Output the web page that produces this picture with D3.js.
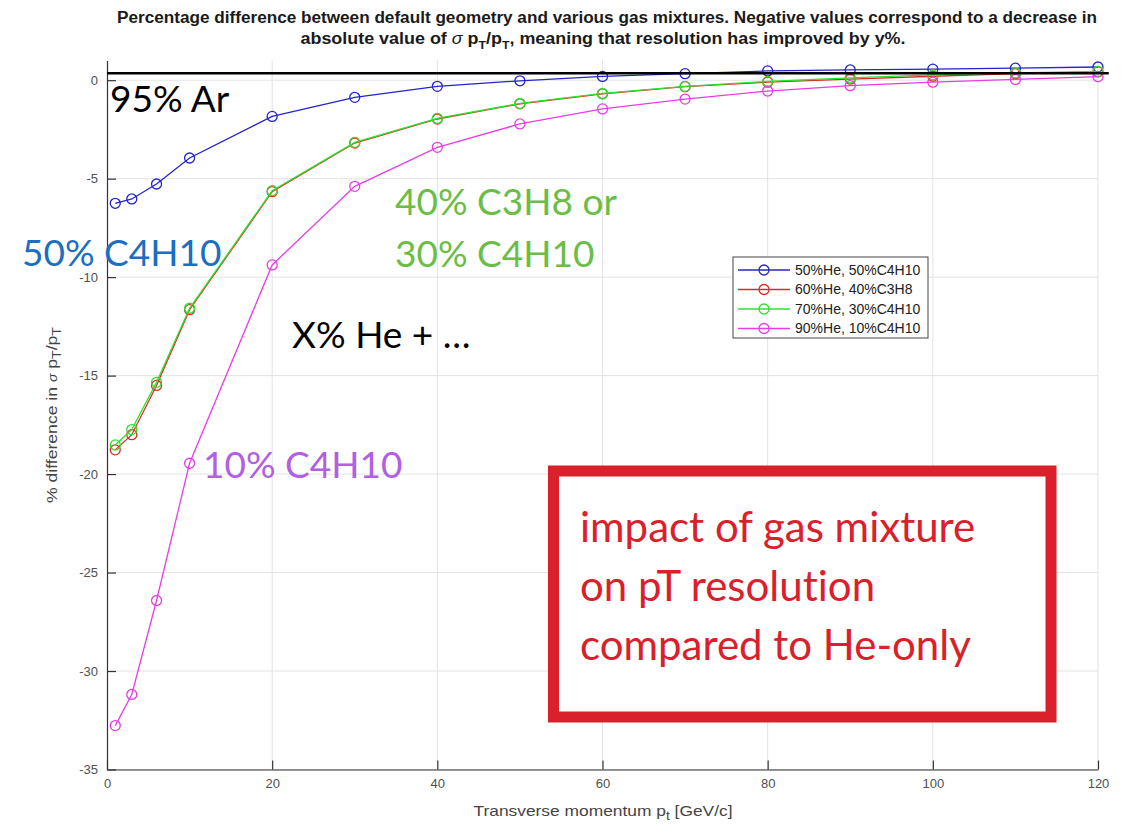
<!DOCTYPE html>
<html>
<head>
<meta charset="utf-8">
<script src="https://cdn.jsdelivr.net/npm/d3@7"></script>
<style>
  body { margin: 0; background: #fff; }
  svg { display: block; }
</style>
</head>
<body>
<script>
// transverse momentum points (GeV/c)
const momentum = [1, 3, 6, 10, 20, 30, 40, 50, 60, 70, 80, 90, 100, 110, 120];
// % difference in sigma pT/pT for each gas mixture
const he50c4h10 = [-6.25, -6.03, -5.27, -3.95, -1.84, -0.87, -0.31, -0.03, 0.19, 0.33, 0.47, 0.52, 0.56, 0.61, 0.67];
const he60c3h8 = [-18.77, -18.0, -15.5, -11.65, -5.66, -3.19, -1.97, -1.2, -0.69, -0.33, -0.1, 0.05, 0.2, 0.33, 0.42];
const he70c4h10 = [-18.52, -17.74, -15.34, -11.58, -5.61, -3.16, -1.94, -1.18, -0.67, -0.31, -0.06, 0.12, 0.27, 0.37, 0.45];
const he90c4h10 = [-32.77, -31.19, -26.42, -19.45, -9.38, -5.39, -3.41, -2.22, -1.46, -0.96, -0.55, -0.28, -0.1, 0.04, 0.18];
const seriesNames = ["50%He, 50%C4H10", "60%He, 40%C3H8", "70%He, 30%C4H10", "90%He, 10%C4H10"];
const seriesColors = ["#2424cc", "#e02a2a", "#2ee02e", "#e63ee6"];
// 95% Ar reference level
const argonLevel = 0.35;
const xTicks = [0, 20, 40, 60, 80, 100, 120];
const yTicks = [0, -5, -10, -15, -20, -25, -30, -35];

window.onload = function() {
  const w = 1121;
  const h = 827;
  const left = 107, right = 1098, top = 60.5, bottom = 769.5;
  const sans = "Liberation Sans, Arial, sans-serif";

  let svg = d3.select("body")
            .append("svg")
            .attr("width", w)
            .attr("height", h);

  let xScale = d3.scaleLinear().domain([0, 120]).range([left, right]);
  let yScale = d3.scaleLinear().domain([-35, 1]).range([bottom, top]);

  // grid
  svg.append("g")
     .selectAll("line")
     .data(xTicks.slice(1))
     .enter()
     .append("line")
     .attr("x1", d => xScale(d)).attr("x2", d => xScale(d))
     .attr("y1", top).attr("y2", bottom)
     .attr("stroke", "#e3e3e3").attr("stroke-width", 1);
  svg.append("g")
     .selectAll("line")
     .data(yTicks)
     .enter()
     .append("line")
     .attr("x1", left).attr("x2", right)
     .attr("y1", d => yScale(d)).attr("y2", d => yScale(d))
     .attr("stroke", "#e3e3e3").attr("stroke-width", 1);

  // axes, ticks pointing inward, plain hyphen for negatives
  let fmt = d => String(d);
  let xAxis = d3.axisBottom(xScale).tickValues(xTicks).tickSizeInner(-9).tickSizeOuter(0).tickPadding(9).tickFormat(fmt);
  let yAxis = d3.axisLeft(yScale).tickValues(yTicks).tickSizeInner(-9).tickSizeOuter(0).tickPadding(9).tickFormat(fmt);
  let gx = svg.append("g")
     .attr("transform", "translate(0," + bottom + ")")
     .call(xAxis);
  let gy = svg.append("g")
     .attr("transform", "translate(" + left + ",0)")
     .call(yAxis);
  [gx, gy].forEach(function(g) {
    g.select(".domain").attr("stroke", "#333").attr("stroke-width", 1.2);
    g.selectAll(".tick line").attr("stroke", "#333").attr("stroke-width", 1.2);
    g.selectAll(".tick text")
     .attr("fill", "#505050")
     .style("font-family", sans)
     .style("font-size", "13px");
  });

  // series
  const allSeries = [he50c4h10, he60c3h8, he70c4h10, he90c4h10];
  let line = d3.line()
               .x((d, i) => xScale(momentum[i]))
               .y(d => yScale(d));
  allSeries.forEach(function(values, k) {
    let g = svg.append("g");
    g.append("path")
     .attr("d", line(values))
     .attr("fill", "none")
     .attr("stroke", seriesColors[k])
     .attr("stroke-width", 1.3);
    g.selectAll("circle")
     .data(values)
     .enter()
     .append("circle")
     .attr("cx", (d, i) => xScale(momentum[i]))
     .attr("cy", d => yScale(d))
     .attr("r", 5)
     .attr("fill", "none")
     .attr("stroke", seriesColors[k])
     .attr("stroke-width", 1.3);
  });

  // 95% Ar reference line
  svg.append("line")
     .attr("x1", xScale(0)).attr("x2", xScale(121.3))
     .attr("y1", yScale(argonLevel)).attr("y2", yScale(argonLevel))
     .attr("stroke", "#000").attr("stroke-width", 2.6);

  // legend
  let legend = svg.append("g").attr("transform", "translate(733,257)");
  legend.append("rect")
        .attr("width", 195).attr("height", 81)
        .attr("fill", "#fff").attr("stroke", "#444").attr("stroke-width", 1);
  seriesNames.forEach(function(name, k) {
    let yy = 13 + k * 19.5;
    legend.append("line")
          .attr("x1", 5).attr("x2", 57).attr("y1", yy).attr("y2", yy)
          .attr("stroke", seriesColors[k]).attr("stroke-width", 1.3);
    legend.append("circle")
          .attr("cx", 31).attr("cy", yy).attr("r", 5)
          .attr("fill", "none").attr("stroke", seriesColors[k]).attr("stroke-width", 1.3);
    legend.append("text")
          .attr("x", 62).attr("y", yy + 4.5)
          .style("font-family", sans)
          .style("font-size", "14px")
          .attr("fill", "#222")
          .text(name);
  });

  // title
  let title = svg.append("g")
                 .style("font-family", sans)
                 .style("font-weight", "bold")
                 .style("font-size", "16px")
                 .attr("fill", "#1a1a1a");
  title.append("text")
       .attr("x", 607).attr("y", 23)
       .attr("text-anchor", "middle")
       .attr("textLength", 980).attr("lengthAdjust", "spacingAndGlyphs")
       .text("Percentage difference between default geometry and various gas mixtures. Negative values correspond to a decrease in");
  let t2 = title.append("text")
       .attr("x", 603).attr("y", 44)
       .attr("text-anchor", "middle")
       .attr("textLength", 605).attr("lengthAdjust", "spacingAndGlyphs");
  t2.append("tspan").text("absolute value of ");
  t2.append("tspan").style("font-style", "italic").style("font-weight", "normal").text("σ");
  t2.append("tspan").text(" p");
  t2.append("tspan").attr("baseline-shift", "-5").style("font-size", "11px").text("T");
  t2.append("tspan").text("/p");
  t2.append("tspan").attr("baseline-shift", "-5").style("font-size", "11px").text("T");
  t2.append("tspan").text(", meaning that resolution has improved by y%.");

  // axis labels
  let xl = svg.append("text")
     .attr("x", 603).attr("y", 816)
     .attr("text-anchor", "middle")
     .attr("textLength", 259).attr("lengthAdjust", "spacingAndGlyphs")
     .style("font-family", sans)
     .style("font-size", "15px")
     .attr("fill", "#444");
  xl.append("tspan").text("Transverse momentum p");
  xl.append("tspan").attr("baseline-shift", "-4").style("font-size", "12px").text("t");
  xl.append("tspan").text(" [GeV/c]");

  let yl = svg.append("text")
     .attr("transform", "translate(57,415) rotate(-90)")
     .attr("text-anchor", "middle")
     .attr("textLength", 176).attr("lengthAdjust", "spacingAndGlyphs")
     .style("font-family", sans)
     .style("font-size", "15px")
     .attr("fill", "#444");
  yl.append("tspan").text("% difference in ");
  yl.append("tspan").style("font-style", "italic").style("font-size", "12px").text("σ");
  yl.append("tspan").text(" p");
  yl.append("tspan").attr("baseline-shift", "-4").style("font-size", "12px").text("T");
  yl.append("tspan").text("/p");
  yl.append("tspan").attr("baseline-shift", "-4").style("font-size", "12px").text("T");

  // slide annotations
  const notes = [
    {t: "95% Ar", x: 110, y: 112, c: "#000"},
    {t: "50% C4H10", x: 22, y: 266, c: "#1b6ec2"},
    {t: "40% C3H8 or", x: 395, y: 215, c: "#6abd45"},
    {t: "30% C4H10", x: 395, y: 267, c: "#6abd45"},
    {t: "X% He + …", x: 292, y: 348, c: "#000"},
    {t: "10% C4H10", x: 203, y: 478, c: "#b160e3"}
  ];
  svg.append("g")
     .selectAll("text")
     .data(notes)
     .enter()
     .append("text")
     .attr("x", d => d.x).attr("y", d => d.y)
     .attr("fill", d => d.c)
     .style("font-family", "Lato, sans-serif")
     .style("font-size", "37px")
     .text(d => d.t);

  // red box
  svg.append("rect")
     .attr("x", 553.5).attr("y", 471)
     .attr("width", 497.5).attr("height", 246)
     .attr("fill", "#fff")
     .attr("stroke", "#d9202b").attr("stroke-width", 11);
  const boxLines = ["impact of gas mixture", "on pT resolution", "compared to He-only"];
  svg.append("g")
     .selectAll("text")
     .data(boxLines)
     .enter()
     .append("text")
     .attr("x", 580).attr("y", (d, i) => 542 + i * 59)
     .attr("fill", "#d9202b")
     .style("font-family", "Lato, sans-serif")
     .style("font-size", "42px")
     .style("font-variant-ligatures", "none")
     .text(d => d);
}
</script>
</body>
</html>
